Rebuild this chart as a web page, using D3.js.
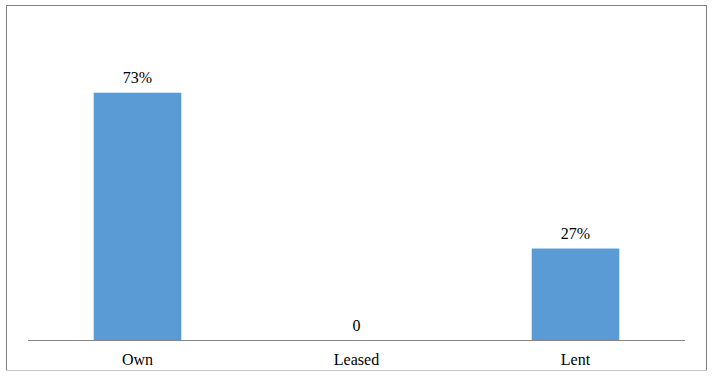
<!DOCTYPE html>
<html>
<head>
<meta charset="utf-8">
<script src="https://cdn.jsdelivr.net/npm/d3@7.9.0/dist/d3.min.js"></script>
<style>
  html, body { margin: 0; padding: 0; background: #fff; }
  svg { display: block; }
</style>
</head>
<body>
<svg id="chart" width="712" height="379"></svg>
<script>
const categories = ['Own', 'Leased', 'Lent'];
const values = [0.73, 0, 0.27];
const valueLabels = ['73%', '0', '27%'];

const FONT = 'Liberation Serif';
const plot = { left: 28, right: 685, top: 69, bottom: 340 };

const svg = d3.select('#chart');

// outer chart frame
svg.append('rect')
  .attr('x', 6.5).attr('y', 5.5)
  .attr('width', 700).attr('height', 365)
  .attr('fill', '#fff').attr('stroke', '#7f7f7f').attr('stroke-width', 1);
svg.append('line')
  .attr('x1', 6).attr('x2', 707).attr('y1', 370.5).attr('y2', 370.5)
  .attr('stroke', '#c6c6c6');

const x = d3.scaleBand()
  .domain(categories)
  .range([plot.left, plot.right])
  .paddingInner(0.6).paddingOuter(0.3);

const y = d3.scaleLinear().domain([0, 0.8]).range([plot.bottom, plot.top]);

const data = categories.map((c, i) => ({ cat: c, v: values[i], label: valueLabels[i] }));

svg.append('g').selectAll('rect').data(data).join('rect')
  .attr('x', d => x(d.cat))
  .attr('y', d => y(d.v))
  .attr('width', x.bandwidth())
  .attr('height', d => y(0) - y(d.v))
  .attr('fill', '#5b9bd5');

// category axis
const xAxis = svg.append('g')
  .attr('transform', `translate(0,${plot.bottom + 0.5})`)
  .call(d3.axisBottom(x).tickSize(0).tickPadding(0));
xAxis.select('.domain').attr('stroke', '#868686').attr('d', `M${plot.left},0H${plot.right}`);
xAxis.selectAll('text')
  .attr('dy', null).attr('y', 24.5)
  .style('font-family', FONT).style('font-size', '16px')
  .attr('fill', '#000');

// data labels
svg.append('g')
  .selectAll('text').data(data).join('text')
  .attr('x', d => x(d.cat) + x.bandwidth() / 2)
  .attr('y', d => y(d.v) - 9.5)
  .attr('text-anchor', 'middle')
  .style('font-family', FONT).style('font-size', '16px')
  .attr('fill', '#000')
  .text(d => d.label);
</script>
</body>
</html>
